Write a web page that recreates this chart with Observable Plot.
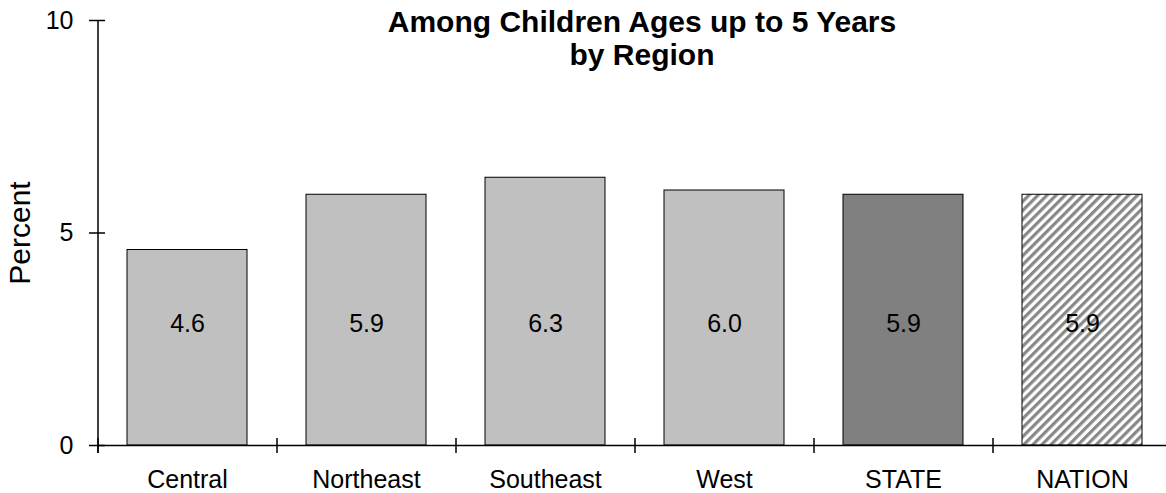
<!DOCTYPE html>
<html><head><meta charset="utf-8">
<script src="https://cdn.jsdelivr.net/npm/d3@7"></script>
<script src="https://cdn.jsdelivr.net/npm/@observablehq/plot@0.6"></script>
<style>body{margin:0;background:#fff;overflow:hidden;}</style>
</head><body><div id="chart"></div>
<script>
const categories = ["Central", "Northeast", "Southeast", "West", "STATE", "NATION"];
const values = [4.6, 5.9, 6.3, 6.0, 5.9, 5.9];
const fills = ["#c0c0c0", "#c0c0c0", "#c0c0c0", "#c0c0c0", "#808080", "url(#hatch)"];
const yTicks = [0, 5, 10];
const title = "Among Children Ages up to 5 Years\nby Region";
const yLabel = "Percent";

const data = categories.map((c, i) => ({category: c, value: values[i], fill: fills[i]}));
const W = 1166, H = 493;
const xRange = [97, 1171];
const step = (xRange[1] - xRange[0]) / categories.length;
const labelY = 2.87;
const font = "'Liberation Sans', Arial, sans-serif";

const chart = Plot.plot({
  width: W, height: H,
  marginLeft: 97, marginRight: 0, marginTop: 20, marginBottom: 48,
  style: {fontFamily: font, background: "#fff", color: "#000", overflow: "visible"},
  x: {domain: categories, range: xRange, paddingInner: 0.33, paddingOuter: 0.165},
  y: {domain: [0, 10], range: [445, 20]},
  marks: [
    Plot.barY(data, {x: "category", y: "value", fill: "fill", stroke: "#000", strokeWidth: 1}),
    Plot.text(data, {x: "category", y: () => labelY, text: d => d.value.toFixed(1), fontSize: 25, fill: "#000"}),
    Plot.ruleY([0], {stroke: "#000", strokeWidth: 1.5}),
    Plot.ruleX(categories, {x: d => d, y1: -0.19, y2: 0.165, dx: -step / 2, stroke: "#000", strokeWidth: 1.5}),
    Plot.ruleX([categories[0]], {x: d => d, y1: -0.19, y2: 10, dx: -step / 2, stroke: "#000", strokeWidth: 1.5}),
    Plot.axisY({ticks: yTicks, tickSize: 16, dx: 8, tickPadding: 16, fontSize: 25, label: null, strokeWidth: 1.5}),
    Plot.axisX({tickSize: 0, tickPadding: 25, fontSize: 25, label: null}),
    Plot.text([yLabel], {frameAnchor: "left", textAnchor: "middle", dx: -77, rotate: -90, fontSize: 30}),
    Plot.text([title], {frameAnchor: "top", dx: 10, dy: -12, fontSize: 30, fontWeight: "bold", lineHeight: 1.1})
  ]
});

const svg = d3.select(chart);
const defs = svg.insert("defs", ":first-child");
const pat = defs.append("pattern")
  .attr("id", "hatch")
  .attr("width", 6.4).attr("height", 6.4)
  .attr("patternUnits", "userSpaceOnUse")
  .attr("patternTransform", "rotate(45)");
pat.append("rect").attr("width", 6.4).attr("height", 6.4).attr("fill", "#fff");
pat.append("rect").attr("width", 3.2).attr("height", 6.4).attr("fill", "#888");

document.getElementById("chart").appendChild(chart);
</script>
</body></html>
